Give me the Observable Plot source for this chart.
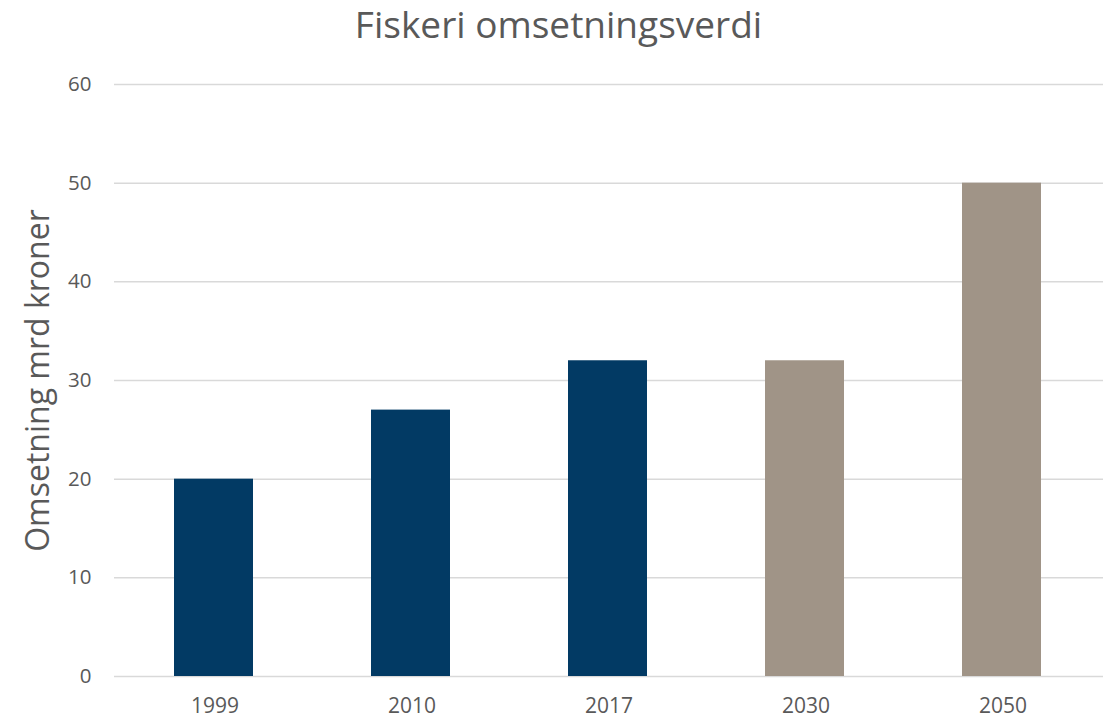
<!DOCTYPE html>
<html>
<head>
<meta charset="utf-8">
<script src="https://cdn.jsdelivr.net/npm/d3@7"></script>
<script src="https://cdn.jsdelivr.net/npm/@observablehq/plot@0.6"></script>
<style>
  html, body { margin: 0; padding: 0; background: #fff; overflow: hidden; }
  #title { height: 50px; width: 1117px; text-align: center; font-family: "Open Sans", sans-serif; font-weight: 400; font-size: 37px; line-height: 48px; color: #595959; white-space: nowrap; }
  #chart svg { display: block; }
</style>
</head>
<body>
<div id="title">Fiskeri omsetningsverdi</div>
<div id="chart"></div>
<script>
const years = ["1999", "2010", "2017", "2030", "2050"];
const values = [20, 27, 32, 32, 50];
const kinds = ["historisk", "historisk", "historisk", "prognose", "prognose"];
const yTicks = [0, 10, 20, 30, 40, 50, 60];
const yLabel = "Omsetning mrd kroner";

const data = years.map((y, i) => ({year: y, value: values[i], kind: kinds[i]}));

const chart = Plot.plot({
  width: 1117,
  height: 669,
  marginTop: 34,
  marginBottom: 43,
  marginLeft: 114,
  marginRight: 14,
  style: {fontFamily: "Open Sans, sans-serif", color: "#595959", background: "#fff"},
  x: {domain: years, padding: 0, label: null},
  y: {domain: [0, 60], label: null},
  color: {domain: ["historisk", "prognose"], range: ["#023a64", "#a09487"]},
  marks: [
    Plot.ruleY(yTicks, {stroke: "#d9d9d9", strokeWidth: 1.5}),
    Plot.barY(data, {x: "year", y: "value", fill: "kind", insetLeft: 58, insetRight: 60}),
    Plot.axisX({tickSize: 0, tickPadding: 22, fontSize: 21, label: null}),
    Plot.axisY({ticks: yTicks, tickSize: 0, tickPadding: 23, fontSize: 20.5, label: null}),
    Plot.text([yLabel], {frameAnchor: "left", rotate: -90, dx: -76, fontSize: 32, textAnchor: "middle", lineAnchor: "middle", fill: "#595959"})
  ]
});
document.getElementById("chart").appendChild(chart);
</script>
</body>
</html>
